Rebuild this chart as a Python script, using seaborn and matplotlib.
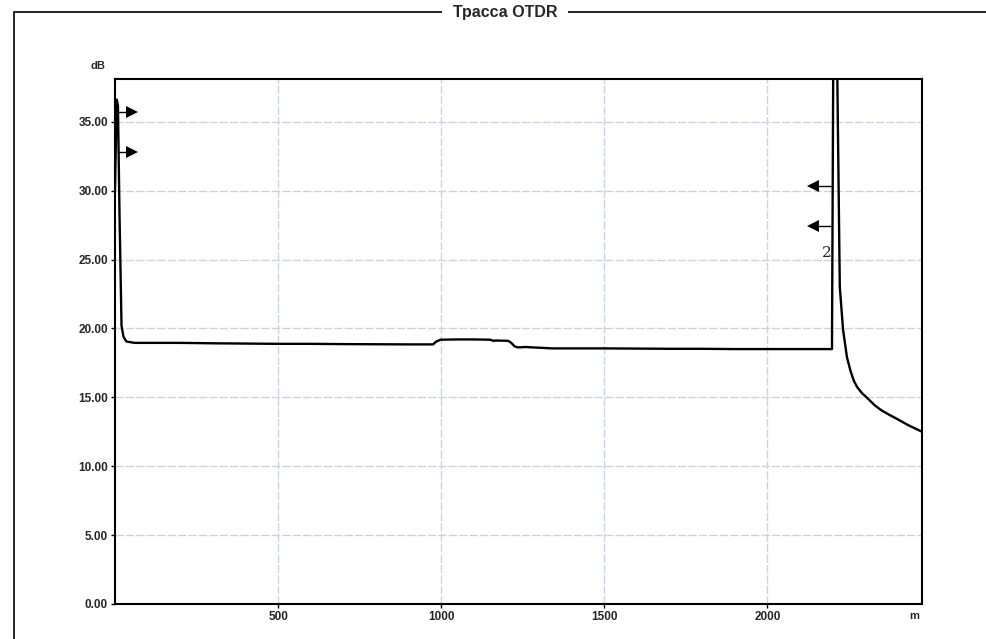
import numpy as np
import pandas as pd
import matplotlib
matplotlib.use("Agg")
import matplotlib.pyplot as plt
import seaborn as sns
from matplotlib.patches import Rectangle

# ---- data ----
distance_m = [0, 3, 5, 9, 14, 20, 26, 35, 60, 100, 200, 300, 400, 500, 600, 700,
              800, 900, 975, 985, 998, 1050, 1100, 1150, 1160, 1170, 1205, 1215,
              1225, 1235, 1260, 1280, 1300, 1340, 1500, 1700, 1800, 1900, 2000,
              2100, 2198, 2203, 2211, 2222, 2232, 2244, 2255, 2265, 2275, 2290,
              2306, 2330, 2350, 2376, 2400, 2430, 2474]
level_db = [30.0, 34.0, 36.6, 36.2, 28.0, 20.2, 19.4, 19.05, 18.95, 18.95, 18.95,
            18.92, 18.9, 18.88, 18.88, 18.86, 18.85, 18.84, 18.84, 19.05, 19.18,
            19.2, 19.2, 19.18, 19.1, 19.12, 19.1, 18.95, 18.7, 18.62, 18.65, 18.62,
            18.6, 18.55, 18.55, 18.52, 18.52, 18.5, 18.5, 18.5, 18.5, 45.0, 45.0,
            23.0, 19.9, 17.9, 16.9, 16.2, 15.75, 15.3, 14.95, 14.4, 14.05, 13.7,
            13.4, 13.0, 12.5]

left_marker_db = [35.7, 32.8]
right_marker_db = [30.3, 27.4]
marker_label = "2"

x_ticks = [500, 1000, 1500, 2000]
x_tick_labels = ["500", "1000", "1500", "2000"]
y_ticks = [0, 5, 10, 15, 20, 25, 30, 35]
y_tick_labels = ["0.00", "5.00", "10.00", "15.00", "20.00", "25.00", "30.00", "35.00"]
title_text = "Трасса OTDR"

# ---- figure ----
sns.set_theme(style="white")
plt.rcParams["font.family"] = ["Liberation Sans", "DejaVu Sans"]

fig = plt.figure(figsize=(9.87, 6.39), dpi=100)
ax = fig.add_axes([115 / 987, 35 / 639, (922 - 115) / 987, (604 - 79) / 639])

df = pd.DataFrame({"distance": distance_m, "db": level_db})
sns.lineplot(data=df, x="distance", y="db", ax=ax, color="black", lw=1.7,
             sort=False, estimator=None)

ax.set_xlim(0, 2474)
ax.set_ylim(0, 38.1)
ax.set_xticks(x_ticks)
ax.set_xticklabels(x_tick_labels, fontsize=8.5, fontweight="bold")
ax.set_yticks(y_ticks)
ax.set_yticklabels(y_tick_labels, fontsize=8.5, fontweight="bold")
ax.set_xlabel("")
ax.set_ylabel("")
ax.tick_params(axis="both", which="both", direction="out", length=3, width=1,
               color="black", pad=2, left=True, bottom=True)
ax.grid(True, color="#c9d3e6", lw=1.0, linestyle=(0, (6, 1.5)))
for s in ax.spines.values():
    s.set_color("black")
    s.set_linewidth(1.5)

# unit labels
ax.text(-0.012, 1.015, "dB", transform=ax.transAxes, ha="right", va="bottom",
        fontsize=8, fontweight="bold")
ax.text(0.99, -0.022, "m", transform=ax.transAxes, ha="center", va="center",
        fontsize=8, fontweight="bold")

# event markers (left: pointing right, right: pointing left)
for yv in left_marker_db:
    ax.plot([8, 45], [yv, yv], color="black", lw=1)
    ax.plot([52], [yv], marker=">", color="black", ms=8, markeredgewidth=0)
for yv in right_marker_db:
    ax.plot([2150, 2198], [yv, yv], color="black", lw=1)
    ax.plot([2140], [yv], marker="<", color="black", ms=8, markeredgewidth=0)
ax.text(2182, 25.5, marker_label, ha="center", va="center", fontsize=11,
        family="DejaVu Serif")

# outer frame with title on the top border
fig.patches.append(Rectangle((14 / 987, -0.05), 1.02, 0.05 + (639 - 12) / 639,
                             transform=fig.transFigure, fill=False,
                             edgecolor="black", lw=1.2))
fig.text(505 / 987, 1 - 13 / 639, title_text, ha="center", va="center",
         fontsize=11.5, fontweight="bold",
         bbox=dict(facecolor="white", edgecolor="none", pad=8))

fig.savefig("out.png", dpi=100)
